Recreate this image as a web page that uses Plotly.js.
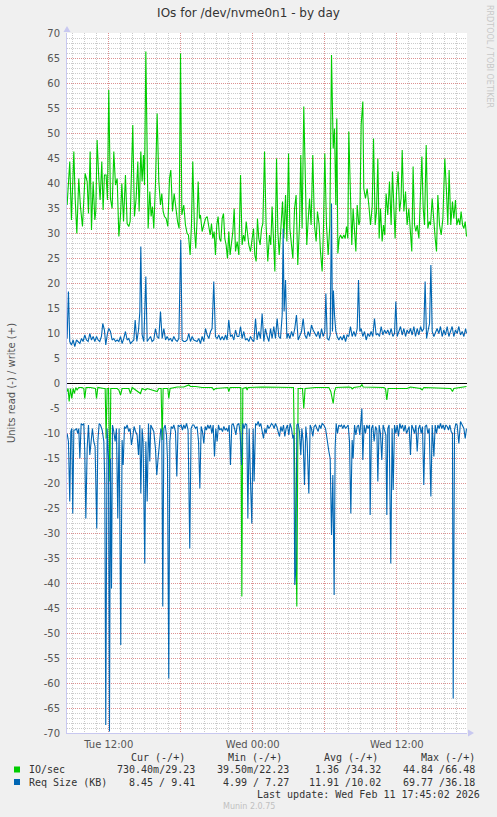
<!DOCTYPE html>
<html>
<head>
<meta charset="utf-8">
<script src="https://cdn.plot.ly/plotly-3.0.1.min.js"></script>
<style>
html,body{margin:0;padding:0;background:#F0F0F0;}
#chart{width:497px;height:817px;}
</style>
</head>
<body>
<div id="chart"></div>
<script>
// Time axis: hours since Tue 00:00 (Tue 12:00 = 12, Wed 00:00 = 24, Wed 12:00 = 36)
const xTickVals = [12, 18, 24, 30, 36];
const xTickText = ['Tue 12:00', '', 'Wed 00:00', '', 'Wed 12:00'];
const yTickVals = [-70,-65,-60,-55,-50,-45,-40,-35,-30,-25,-20,-15,-10,-5,0,5,10,15,20,25,30,35,40,45,50,55,60,65,70];

// IO/sec write (+)
const wrIoHours = [8.53,8.67,8.75,8.89,9.09,9.20,9.34,9.50,9.64,9.81,9.92,10.03,10.20,10.31,10.45,10.56,10.70,10.84,10.92,11.03,11.17,11.28,11.42,11.53,11.64,11.78,11.89,12.00,12.14,12.28,12.42,12.56,12.70,12.84,12.98,13.09,13.23,13.39,13.53,13.67,13.78,13.89,14.00,14.14,14.28,14.42,14.53,14.67,14.78,14.89,14.98,15.09,15.20,15.28,15.42,15.53,15.64,15.75,15.89,16.03,16.17,16.31,16.42,16.53,16.64,16.78,16.92,17.06,17.17,17.31,17.45,17.59,17.73,17.86,17.98,18.09,18.25,18.39,18.53,18.64,18.78,18.89,19.00,19.14,19.25,
19.36,19.45,19.56,19.64,19.78,19.92,20.06,20.20,20.34,20.45,20.56,20.67,20.78,20.89,21.00,21.11,21.23,21.34,21.45,21.56,21.67,21.78,21.89,22.00,22.11,22.23,22.34,22.45,22.56,22.70,22.84,22.98,23.11,23.23,23.34,23.45,23.56,23.67,23.81,23.95,24.06,24.17,24.28,24.39,24.50,24.61,24.73,24.84,24.98,25.11,25.25,25.39,25.50,25.61,25.73,25.84,25.98,26.09,26.20,26.34,26.48,26.59,26.73,26.84,26.98,27.09,27.23,27.34,27.48,27.61,27.75,27.89,28.00,28.11,28.25,28.39,28.50,28.61,28.73,28.86,29.00,29.14,29.28,29.39,29.53,29.64,29.78,29.89,30.00,30.14,30.28,30.42,30.56,30.70,30.81,
30.92,31.00,31.09,31.20,31.31,31.45,31.59,31.70,31.81,31.92,32.00,32.14,32.25,32.36,32.48,32.59,32.70,32.84,32.92,33.03,33.17,33.25,33.39,33.53,33.67,33.81,33.95,34.06,34.20,34.31,34.42,34.53,34.64,34.78,34.89,35.00,35.11,35.25,35.39,35.53,35.64,35.75,35.86,35.98,36.11,36.23,36.36,36.45,36.59,36.73,36.86,37.00,37.14,37.25,37.36,37.48,37.59,37.70,37.84,37.98,38.09,38.20,38.31,38.45,38.59,38.70,38.81,38.95,39.09,39.20,39.31,39.42,39.56,39.70,39.84,40.00,40.14,40.25,40.36,40.50,40.64,40.75,40.89,41.00,41.14,41.25,41.36,41.48,41.59,41.70,41.81];
const wrIo = [35.6,42.3,44.3,32.6,46.3,36.9,29.9,40.9,35.3,31.3,35.6,41.9,40.3,33.9,46.3,30.6,40.3,32.6,34.3,48.6,40.9,36.6,44.3,34.6,41.6,41.6,36.6,58.6,36.9,34.9,46.3,39.6,40.9,29.3,33.6,39.9,32.3,41.6,31.9,31.3,32.3,40.3,51.6,33.3,36.9,44.3,34.3,46.3,40.3,45.6,39.6,66.3,40.3,30.9,38.3,33.3,35.3,30.9,39.6,53.9,40.3,35.6,37.9,34.3,33.3,32.9,31.3,40.9,42.6,34.3,37.9,34.3,32.3,30.9,65.9,33.6,35.6,31.6,29.9,29.6,25.6,31.6,44.3,30.9,26.9,
32.9,40.3,32.9,33.6,30.3,31.6,32.9,33.3,30.9,29.6,31.9,28.9,30.3,25.6,31.6,33.3,28.9,28.3,32.9,33.9,28.9,27.6,24.9,30.3,25.6,27.6,30.3,34.9,26.3,28.3,25.6,41.6,27.6,29.6,28.3,32.3,29.6,27.6,26.3,28.9,30.9,25.6,24.3,32.9,28.9,27.6,30.9,31.9,46.3,31.6,24.3,29.6,27.6,35.3,28.3,22.3,44.9,30.3,25.6,31.6,36.3,28.9,37.6,28.3,45.9,30.9,27.6,24.9,34.9,37.6,23.6,31.6,45.6,30.9,55.3,36.9,27.6,32.3,36.9,31.6,45.6,31.6,28.3,34.3,31.6,26.3,22.3,30.9,45.9,31.6,25.6,31.6,65.6,46.9,50.9,
35.6,52.9,25.9,28.9,29.6,28.9,29.6,28.9,31.3,28.9,50.3,39.3,27.6,34.9,30.3,26.3,35.6,31.6,32.3,51.6,56.3,38.9,36.9,38.9,35.6,31.6,35.3,48.9,31.6,34.3,44.9,28.9,34.9,28.3,31.6,29.6,37.9,33.6,40.3,31.6,42.3,36.3,28.9,38.3,42.3,34.3,36.9,46.6,34.3,38.3,31.6,34.9,28.9,26.3,43.3,31.6,30.3,31.6,28.9,36.9,45.3,34.9,31.6,47.6,30.9,32.3,31.6,36.9,31.6,28.9,26.3,37.6,31.6,29.6,32.9,44.9,38.3,31.6,42.6,31.6,36.3,32.9,36.6,31.6,32.9,31.6,34.3,31.6,30.9,32.3,29.3];

// IO/sec read (-), magnitudes
const rdIoHours = [8.53,8.61,8.70,8.81,8.92,9.03,9.14,9.25,9.36,9.50,9.78,9.92,10.00,10.11,10.48,10.89,10.98,11.09,11.59,11.70,11.78,11.86,11.98,12.09,12.17,12.70,12.84,12.98,13.11,13.67,13.81,13.95,14.64,14.78,15.06,15.20,16.03,16.17,16.36,16.45,16.53,16.92,17.00,17.11,17.70,18.25,18.67,18.81,19.23,19.78,20.61,20.75,20.89,21.92,22.00,22.11,23.00,23.09,23.17,23.45,23.53,23.61,24.78,26.17,27.39,27.50,27.67,27.78,28.14,28.25,28.36,29.23,30.34,30.50,30.61,30.70,30.81,30.92,32.00,32.20,32.28,32.42,32.98,33.09,33.20,34.92,35.06,35.17,35.28,36.86,37.14,37.98,38.11,38.25,40.48,40.64,40.75,41.31,41.81];
const rdIo = [1.7,1.1,3.7,1.1,3.1,1.1,2.1,0.9,1.4,0.9,0.9,1.1,3.1,0.9,0.9,1.1,3.1,0.9,1.1,1.1,11.1,1.1,1.1,19.7,1.1,1.1,1.4,2.4,1.1,1.1,2.1,0.9,2.1,1.1,1.4,1.1,1.7,1.1,1.1,11.4,1.1,1.1,3.1,1.1,0.8,0.8,0.4,0.7,0.7,0.9,0.9,1.4,1.1,0.9,1.7,0.9,0.9,42.7,1.1,0.9,1.4,0.9,0.8,0.9,0.9,18.4,44.7,1.1,1.1,5.1,1.1,0.9,0.9,1.7,3.4,4.1,1.7,0.9,0.8,0.9,1.2,0.9,0.7,0.3,0.8,0.9,1.1,3.4,1.1,1.1,0.8,1.1,1.4,0.9,1.1,1.7,1.1,0.9,0.7];

// Req Size (KB) write (+)
const wrSizeHours = [8.53,8.64,8.75,8.89,9.03,9.17,9.31,9.45,9.59,9.73,9.86,10.00,10.14,10.28,10.42,10.56,10.70,10.84,10.98,11.11,11.25,11.39,11.50,11.64,11.75,11.89,12.00,12.14,12.28,12.42,12.56,12.70,12.84,12.98,13.11,13.25,13.39,13.53,13.67,13.81,13.95,14.09,14.20,14.34,14.48,14.59,14.67,14.78,14.92,15.09,15.20,15.34,15.48,15.61,15.75,15.89,16.03,16.17,16.31,16.45,16.59,16.73,16.86,17.00,17.14,17.28,17.42,17.56,17.70,17.84,18.00,18.11,18.25,18.39,18.53,18.67,18.81,18.95,19.09,
19.36,19.50,19.64,19.78,19.92,20.06,20.20,20.34,20.48,20.61,20.75,20.89,21.03,21.17,21.31,21.45,21.59,21.73,21.86,22.00,22.14,22.28,22.42,22.56,22.70,22.84,22.98,23.11,23.25,23.39,23.53,23.67,23.81,23.95,24.09,24.23,24.36,24.50,24.64,24.78,24.92,25.06,25.20,25.34,25.48,25.61,25.75,25.89,26.03,26.17,26.31,26.45,26.53,26.61,26.73,26.84,26.95,27.09,27.23,27.36,27.50,27.64,27.78,27.92,28.06,28.20,28.34,28.48,28.61,28.75,28.89,29.03,29.17,29.31,29.45,29.59,29.73,29.86,30.00,30.09,30.20,30.34,30.45,30.56,30.64,30.72,30.81,30.92,
31.03,31.17,31.31,31.45,31.59,31.73,31.86,32.00,32.14,32.28,32.42,32.56,32.70,32.81,32.92,33.03,33.17,33.31,33.45,33.59,33.73,33.86,34.00,34.14,34.28,34.42,34.56,34.70,34.84,34.98,35.11,35.25,35.39,35.53,35.67,35.81,35.92,36.03,36.17,36.31,36.45,36.59,36.73,36.86,37.00,37.14,37.28,37.42,37.56,37.70,37.84,37.98,38.11,38.25,38.36,38.48,38.59,38.73,38.84,38.95,39.09,39.23,39.36,39.50,39.64,39.78,39.92,40.06,40.20,40.34,40.48,40.61,40.75,40.89,41.03,41.17,41.31,41.45,41.59,41.73,41.81];
const wrSize = [8.9,18.3,8.3,7.6,8.6,7.3,8.6,8.3,7.9,8.9,8.3,9.6,8.6,8.3,9.9,8.6,9.3,8.3,9.3,8.6,8.3,9.3,11.9,10.6,7.6,9.9,10.9,10.3,8.6,8.9,8.3,8.6,8.3,9.3,7.9,8.9,10.3,8.6,8.9,7.9,8.3,8.6,12.6,8.3,10.6,14.3,27.3,9.6,8.3,21.3,8.3,8.9,9.3,8.3,8.6,10.9,9.3,8.9,14.3,8.9,10.9,8.6,9.3,8.6,8.9,8.3,9.3,8.6,8.3,8.9,28.6,8.6,8.3,8.3,8.6,9.9,8.3,9.3,8.6,
8.3,8.9,7.9,9.3,8.3,10.9,9.6,8.9,10.3,10.9,20.3,9.3,8.9,9.6,8.6,9.3,8.6,9.6,8.6,12.6,9.3,9.6,8.6,10.6,9.3,9.3,11.3,8.9,10.3,8.6,8.9,8.3,9.3,8.6,8.3,12.9,8.6,10.3,8.9,13.9,8.3,10.9,9.3,8.3,10.9,8.9,11.3,8.9,12.9,9.3,8.9,13.6,30.9,14.3,20.6,8.9,9.9,8.9,10.3,9.3,10.9,13.6,8.6,9.6,10.3,12.9,9.6,8.9,10.3,9.3,11.6,10.6,9.9,9.3,10.3,8.9,10.9,9.3,10.3,17.9,8.9,8.6,9.6,35.9,10.3,18.5,13.6,10.3,
9.3,8.6,9.3,8.6,9.6,8.3,9.6,9.3,11.3,9.3,10.3,9.3,10.9,20.6,10.3,10.9,9.3,10.3,8.6,9.9,9.3,10.3,9.3,12.9,9.6,9.9,9.3,11.3,9.6,10.6,9.9,10.6,9.6,10.9,9.3,9.9,16.3,9.3,10.3,11.3,9.6,10.9,9.3,10.6,9.9,10.9,9.6,11.3,9.3,10.9,9.6,11.3,10.3,10.9,20.3,8.9,10.3,11.9,23.6,10.3,9.3,10.3,10.9,9.9,11.3,9.3,10.6,9.6,11.3,9.3,10.3,11.3,9.3,10.6,9.9,11.3,9.6,10.3,9.3,10.9,9.9];

// Req Size (KB) read (-), magnitudes
const rdSizeHours = [8.53,8.64,8.75,8.84,8.92,9.00,9.09,9.20,9.31,9.42,9.50,9.59,9.70,9.81,9.92,10.00,10.09,10.20,10.31,10.42,10.53,10.64,10.75,10.86,11.00,11.09,11.20,11.31,11.45,11.59,11.67,11.75,11.86,11.98,12.06,12.14,12.23,12.31,12.42,12.53,12.64,12.75,12.86,13.00,13.11,13.20,13.31,13.42,13.53,13.67,13.78,13.89,14.00,14.11,14.23,14.36,14.48,14.59,14.67,14.78,14.86,15.00,15.09,15.20,15.31,15.42,15.50,15.61,15.75,15.89,16.00,16.11,16.23,16.34,16.42,16.50,16.59,16.70,16.81,16.89,17.00,17.09,17.20,17.31,17.42,17.56,17.67,17.78,17.89,18.03,18.14,18.25,18.36,18.48,18.61,18.75,18.86,18.98,19.09,19.23,
19.36,19.48,19.59,19.70,19.81,19.92,20.03,20.14,20.25,20.36,20.48,20.59,20.70,20.81,20.92,21.03,21.14,21.25,21.36,21.48,21.59,21.70,21.81,21.92,22.03,22.14,22.25,22.36,22.48,22.59,22.70,22.84,22.95,23.06,23.17,23.28,23.39,23.50,23.59,23.70,23.81,23.92,24.03,24.11,24.23,24.34,24.45,24.56,24.67,24.78,24.89,25.00,25.11,25.23,25.34,25.45,25.56,25.67,25.78,25.89,26.00,26.11,26.23,26.34,26.45,26.56,26.67,26.78,26.89,27.00,27.11,27.23,27.34,27.42,27.50,27.59,27.67,27.78,27.89,28.00,28.09,28.20,28.31,28.42,28.53,28.67,28.78,28.89,29.00,29.11,29.23,29.34,29.45,29.56,29.67,29.78,29.92,30.06,30.20,30.34,30.45,30.56,30.67,30.78,
30.86,30.95,31.06,31.17,31.28,31.39,31.50,31.61,31.73,31.84,31.95,32.06,32.17,32.28,32.36,32.48,32.59,32.70,32.81,32.92,33.00,33.09,33.17,33.28,33.39,33.50,33.61,33.73,33.78,33.89,34.00,34.11,34.23,34.34,34.42,34.53,34.64,34.75,34.86,34.98,35.09,35.17,35.25,35.36,35.50,35.61,35.70,35.81,35.92,36.03,36.14,36.25,36.36,36.48,36.59,36.70,36.81,36.92,37.03,37.14,37.25,37.36,37.48,37.59,37.70,37.81,37.92,38.03,38.14,38.25,38.36,38.48,38.59,38.70,38.84,38.95,39.09,39.20,39.31,39.42,39.53,39.64,39.75,39.86,39.98,40.09,40.20,40.31,40.42,40.53,40.64,40.70,40.81,40.92,41.03,41.17,41.31,41.45,41.59,41.70,41.81];
const rdSize = [10.1,11.7,23.7,9.7,9.1,26.1,9.4,9.4,9.1,10.1,9.1,15.1,8.1,8.4,8.1,13.7,27.1,13.1,8.4,14.4,11.7,9.1,11.7,12.7,29.1,11.7,8.1,8.4,9.4,11.7,20.4,68.4,9.1,15.1,69.7,15.1,41.1,8.4,9.7,11.7,9.1,27.1,9.1,52.4,11.4,16.4,8.7,9.1,8.4,9.7,9.1,12.4,10.7,8.7,9.7,10.4,14.4,8.4,22.1,9.1,11.7,36.1,11.7,23.7,8.1,15.7,8.4,9.1,9.7,13.1,18.4,15.1,11.1,9.1,9.7,44.7,9.1,8.4,10.4,15.1,59.1,11.7,8.7,9.1,8.4,9.7,18.7,8.4,8.7,8.4,9.4,8.4,9.1,8.1,9.4,33.1,9.1,8.4,8.4,9.1,
8.7,11.7,21.1,8.7,9.7,12.1,8.7,9.4,8.4,9.1,8.4,10.1,8.4,14.7,9.1,11.7,8.4,9.4,9.1,9.7,8.7,9.4,9.1,9.7,8.4,16.4,8.4,8.1,9.1,10.4,8.4,8.1,10.1,16.4,8.1,9.1,8.1,8.4,27.1,9.1,19.7,28.1,9.1,19.7,8.1,8.4,7.7,8.7,8.1,9.4,11.1,9.1,10.1,8.4,9.1,8.7,8.1,8.4,9.1,8.1,8.7,9.7,10.7,8.7,9.7,8.4,10.7,9.1,8.4,10.4,8.1,9.1,11.1,10.4,40.4,37.1,8.4,8.1,9.7,14.4,9.1,11.7,20.4,8.7,11.7,22.1,8.4,9.1,10.7,8.7,8.4,9.1,9.7,8.4,9.1,8.1,8.4,9.1,11.7,13.7,15.1,30.4,18.4,42.4,
13.1,8.1,10.1,8.4,8.7,8.4,9.1,8.4,9.1,8.7,8.4,11.7,26.1,11.4,15.1,8.4,10.4,8.7,8.4,10.4,8.4,5.1,15.4,8.4,10.1,8.4,9.1,8.4,26.4,9.1,8.4,11.7,8.7,9.4,19.7,8.4,10.1,15.4,8.4,9.4,10.4,26.4,9.1,8.4,36.1,9.1,21.4,8.4,10.1,8.4,10.7,8.1,9.1,8.4,9.7,8.4,10.1,9.4,8.7,14.4,8.4,9.1,10.1,8.4,13.7,9.1,8.4,10.1,8.7,20.4,8.7,8.4,10.1,9.1,22.7,8.4,14.7,8.4,10.1,8.4,9.1,8.1,9.1,8.4,9.4,8.4,8.7,9.4,8.4,9.7,10.1,63.1,9.4,8.1,8.4,12.1,7.7,8.4,9.1,11.1,9.1];

// Legend table
const legendNames = ['IO/sec', 'Req Size (KB)'];
const legendColors = ['#00CC00', '#0066B3'];
const legendHeaders = ['Cur (-/+)', 'Min (-/+)', 'Avg (-/+)', 'Max (-/+)'];
const legendRows = [
  ['730.40m/29.23', '39.50m/22.23', '1.36 /34.32', '44.84 /66.48'],
  ['8.45 / 9.41', '4.99 / 7.27', '11.91 /10.02', '69.77 /36.18']
];
const lastUpdate = 'Last update: Wed Feb 11 17:45:02 2026';

const GREEN = legendColors[0], BLUE = legendColors[1];
const neg = a => a.map(v => -v);

const traces = [
  {x: rdIoHours, y: neg(rdIo), type: 'scatter', mode: 'lines', line: {color: GREEN, width: 1.1}, hoverinfo: 'skip'},
  {x: wrIoHours, y: wrIo, type: 'scatter', mode: 'lines', line: {color: GREEN, width: 1.1}, hoverinfo: 'skip'},
  {x: rdSizeHours, y: neg(rdSize), type: 'scatter', mode: 'lines', line: {color: BLUE, width: 1.1}, hoverinfo: 'skip'},
  {x: wrSizeHours, y: wrSize, type: 'scatter', mode: 'lines', line: {color: BLUE, width: 1.1}, hoverinfo: 'skip'}
];

// page geometry helpers (pixels -> paper coords)
const W = 497, H = 817, L = 67, R = 30, T = 33, B = 84;
const PW = W - L - R, PH = H - T - B;
const px = x => (x - L) / PW;
const py = y => (H - B - y) / PH;

const MONO = 'DejaVu Sans Mono, monospace';
const annotations = [];
const colRightHeader = [187, 284, 380, 477];
const colRightValue = [197, 291, 383, 477];
legendHeaders.forEach((h, i) => annotations.push({
  text: h, xref: 'paper', yref: 'paper', x: px(colRightHeader[i]), y: py(757),
  xanchor: 'right', yanchor: 'middle', showarrow: false,
  font: {family: MONO, size: 10, color: '#333333'}
}));
const rowY = [769.5, 782];
legendNames.forEach((n, r) => {
  annotations.push({
    text: n, xref: 'paper', yref: 'paper', x: px(26.5), y: py(rowY[r]),
    xanchor: 'left', yanchor: 'middle', showarrow: false,
    font: {family: MONO, size: 10, color: '#333333'}
  });
  legendRows[r].forEach((v, i) => annotations.push({
    text: v, xref: 'paper', yref: 'paper', x: px(colRightValue[i]), y: py(rowY[r]),
    xanchor: 'right', yanchor: 'middle', showarrow: false,
    font: {family: MONO, size: 10, color: '#333333'}
  }));
});
annotations.push({
  text: lastUpdate, xref: 'paper', yref: 'paper', x: px(482), y: py(794),
  xanchor: 'right', yanchor: 'middle', showarrow: false,
  font: {family: MONO, size: 10, color: '#333333'}
});
annotations.push({
  text: 'Munin 2.0.75', xref: 'paper', yref: 'paper', x: px(248.5), y: py(806),
  xanchor: 'center', yanchor: 'middle', showarrow: false,
  font: {family: 'DejaVu Sans', size: 8, color: '#C0C0C0'}
});
annotations.push({
  text: 'RRDTOOL / TOBI OETIKER', xref: 'paper', yref: 'paper', x: px(489), y: py(56),
  xanchor: 'center', yanchor: 'middle', showarrow: false, textangle: 90,
  font: {family: 'DejaVu Sans', size: 8, color: '#C8C8C8'}
});

const shapes = [];
legendColors.forEach((c, r) => shapes.push({
  type: 'rect', xref: 'paper', yref: 'paper',
  x0: px(14), x1: px(20), y0: py(rowY[r] + 3), y1: py(rowY[r] - 3),
  fillcolor: c, line: {width: 0}
}));
// axis arrows
shapes.push({type: 'path', xref: 'paper', yref: 'paper',
  path: `M ${px(67)} ${py(26)} L ${px(63.5)} ${py(32)} L ${px(70.5)} ${py(32)} Z`,
  fillcolor: '#C8C8F0', line: {width: 0}});
shapes.push({type: 'path', xref: 'paper', yref: 'paper',
  path: `M ${px(474)} ${py(733)} L ${px(468)} ${py(729.5)} L ${px(468)} ${py(736.5)} Z`,
  fillcolor: '#C8C8F0', line: {width: 0}});

const MAJOR = 'rgba(228,120,120,0.7)';
const MINOR = 'rgba(175,175,175,0.65)';
const DOT = '1px,1px';

const layout = {
  width: W, height: H,
  margin: {l: L, r: R, t: T, b: B, pad: 0},
  paper_bgcolor: '#F0F0F0', plot_bgcolor: '#FFFFFF',
  font: {family: 'DejaVu Sans', size: 10, color: '#555555'},
  showlegend: false,
  hovermode: false,
  title: {text: 'IOs for /dev/nvme0n1 - by day', font: {family: 'DejaVu Sans', size: 12, color: '#333333'},
          x: 0.5, xref: 'container', xanchor: 'center', y: 1 - 13 / H, yref: 'container', yanchor: 'middle'},
  xaxis: {
    range: [8.52, 41.85], tickmode: 'array', tickvals: xTickVals, ticktext: xTickText,
    showgrid: true, gridcolor: MAJOR, griddash: DOT, gridwidth: 1,
    minor: {tickmode: 'linear', tick0: 0, dtick: 1, showgrid: true, gridcolor: MINOR, griddash: DOT, gridwidth: 1, ticks: ''},
    showline: true, linecolor: '#C8C8F0', linewidth: 1, zeroline: false, ticks: '',
    ticklabelstandoff: 2, tickfont: {size: 10, color: '#555555'}, fixedrange: true
  },
  yaxis: {
    range: [-70, 70], tickmode: 'array', tickvals: yTickVals, ticktext: yTickVals.map(v => String(v)),
    showgrid: true, gridcolor: MAJOR, griddash: DOT, gridwidth: 1,
    minor: {tickmode: 'linear', tick0: 0, dtick: 1, showgrid: true, gridcolor: MINOR, griddash: DOT, gridwidth: 1, ticks: ''},
    showline: true, linecolor: '#C8C8F0', linewidth: 1,
    zeroline: true, zerolinecolor: '#000000', zerolinewidth: 1,
    ticks: '', ticklabelstandoff: 4, tickfont: {size: 10, color: '#555555'}, fixedrange: true,
    title: {text: 'Units read (-) / write (+)', font: {size: 10, color: '#555555'}, standoff: 26}
  },
  annotations: annotations,
  shapes: shapes
};

Plotly.newPlot('chart', traces, layout, {staticPlot: true, displayModeBar: false});
</script>
</body>
</html>
